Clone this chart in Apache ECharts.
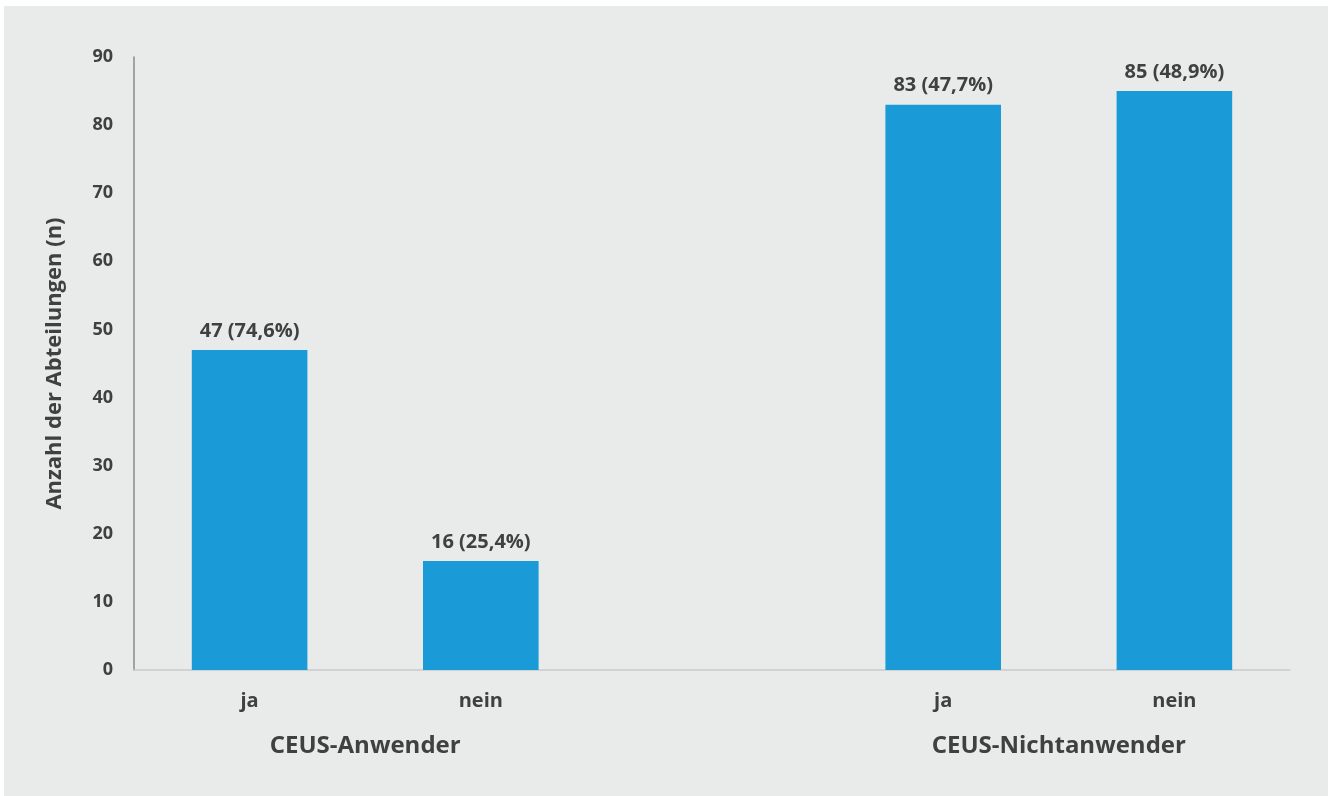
<!DOCTYPE html>
<html>
<head>
<meta charset="utf-8">
<script src="https://cdn.jsdelivr.net/npm/echarts@6/dist/echarts.min.js"></script>
<style>
  html, body { margin: 0; padding: 0; background: #ffffff; }
  #chart { width: 1335px; height: 796px; }
</style>
</head>
<body>
<div id="chart"></div>
<script>
// Answers per group; the blank slot separates the two groups
const categories = ['ja', 'nein', '', 'ja', 'nein'];
const counts = [47, 16, null, 83, 85];
const percents = ['74,6', '25,4', '', '47,7', '48,9'];
const groupNames = ['CEUS-Anwender', 'CEUS-Nichtanwender'];
const groupCenters = [0.5, 3.5];
const yTicks = { min: 0, max: 90, interval: 10 };
const yTitle = 'Anzahl der Abteilungen (n)';

const textColor = '#404040';
const fontFamily = '"Open Sans", "Noto Sans", sans-serif';

const chart = echarts.init(document.getElementById('chart'), null, { renderer: 'canvas' });

chart.setOption({
  animation: false,
  backgroundColor: '#ffffff',
  graphic: [{
    type: 'rect',
    z: -10,
    silent: true,
    shape: { x: 4, y: 6, width: 1324, height: 790 },
    style: { fill: '#e8ebea' }
  }],
  grid: { left: 134, right: 45, top: 57, bottom: 126 },
  xAxis: [{
    type: 'category',
    data: categories,
    axisLine: { lineStyle: { color: '#c9cccc', width: 1.5 } },
    axisTick: { show: false },
    axisLabel: {
      color: textColor, fontFamily, fontWeight: 'bold', fontSize: 20, margin: 21
    }
  }, {
    // group captions centred under each pair of bars
    type: 'value',
    position: 'bottom',
    min: -0.5,
    max: 4.5,
    axisLine: { show: false },
    axisTick: { show: false },
    splitLine: { show: false },
    axisLabel: {
      customValues: groupCenters,
      formatter: v => groupNames[groupCenters.indexOf(v)] || '',
      color: textColor, fontFamily, fontWeight: 'bold', fontSize: 24, margin: 64
    }
  }],
  yAxis: {
    type: 'value',
    min: yTicks.min,
    max: yTicks.max,
    interval: yTicks.interval,
    name: yTitle,
    nameLocation: 'middle',
    nameRotate: 90,
    nameGap: 68,
    nameTextStyle: { color: textColor, fontFamily, fontWeight: 'bold', fontSize: 22 },
    axisLine: { show: true, onZero: false, lineStyle: { color: '#8a8a8a', width: 1.5 } },
    axisTick: { show: false },
    splitLine: { show: false },
    axisLabel: { color: textColor, fontFamily, fontWeight: 'bold', fontSize: 18, margin: 21 }
  },
  series: [{
    type: 'bar',
    xAxisIndex: 0,
    data: counts,
    barWidth: '50%',
    itemStyle: { color: '#1a9bd8' },
    label: {
      show: true,
      position: 'top',
      distance: 9,
      color: textColor,
      fontFamily,
      fontWeight: 'bold',
      fontSize: 20,
      formatter: p => p.value == null ? '' : p.value + ' (' + percents[p.dataIndex] + '%)'
    }
  }]
});
</script>
</body>
</html>
